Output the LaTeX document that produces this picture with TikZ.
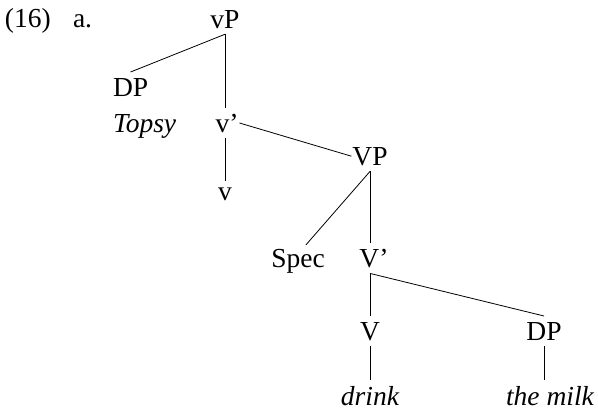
\documentclass[tikz,border=0pt]{standalone}
\usepackage{fontspec}
\setmainfont{Liberation Serif}
\usetikzlibrary{calc}
\begin{document}
\begin{tikzpicture}[x=1pt,y=-1pt,
  lab/.style={inner xsep=1pt, inner ysep=6pt, outer sep=0pt, anchor=base,
    font=\fontsize{27.5}{33}\selectfont},
  edge/.style={line width=0.8pt}]
\useasboundingbox (0,0) rectangle (598,410);
\node[lab, anchor=base west] (ex) at (4,27) {(16)};
\node[lab, anchor=base west] (a) at (72,27) {a.};
\node[lab] (vP) at (225,28) {vP};
\node[lab, anchor=base west] (DP1) at (112,96) {DP};
\node[lab, anchor=base west] (topsy) at (112,132) {\itshape Topsy};
\node[lab] (vbar) at (227,132) {v'};
\node[lab] (v) at (225,200) {v};
\node[lab] (VP) at (370,165) {VP};
\node[lab] (spec) at (298,267) {Spec};
\node[lab] (Vbar) at (374,267) {V'};
\node[lab] (V) at (370,340) {V};
\node[lab] (DP2) at (544,340) {DP};
\node[lab] (drink) at (370,405) {\itshape drink};
\node[lab] (milk) at (550,405) {\itshape the milk};
\draw[edge] (vP.south) -- (DP1.north);
\draw[edge] (vP.south) -- (vP.south |- vbar.north);
\draw[edge] (v.north |- vbar.south) -- (v.north);
\draw[edge] (vbar.east) -- (VP.west);
\draw[edge] (VP.south) -- (VP.south |- Vbar.north);
\draw[edge] (VP.south) -- ($(spec.north)+(8,2)$);
\draw[edge] (V.north |- Vbar.south) -- (V.north);
\draw[edge] (V.north |- Vbar.south) -- (DP2.north);
\draw[edge] (V.south) -- (drink.north);
\draw[edge] (DP2.south) -- (DP2.south |- milk.north);
\end{tikzpicture}
\end{document}
